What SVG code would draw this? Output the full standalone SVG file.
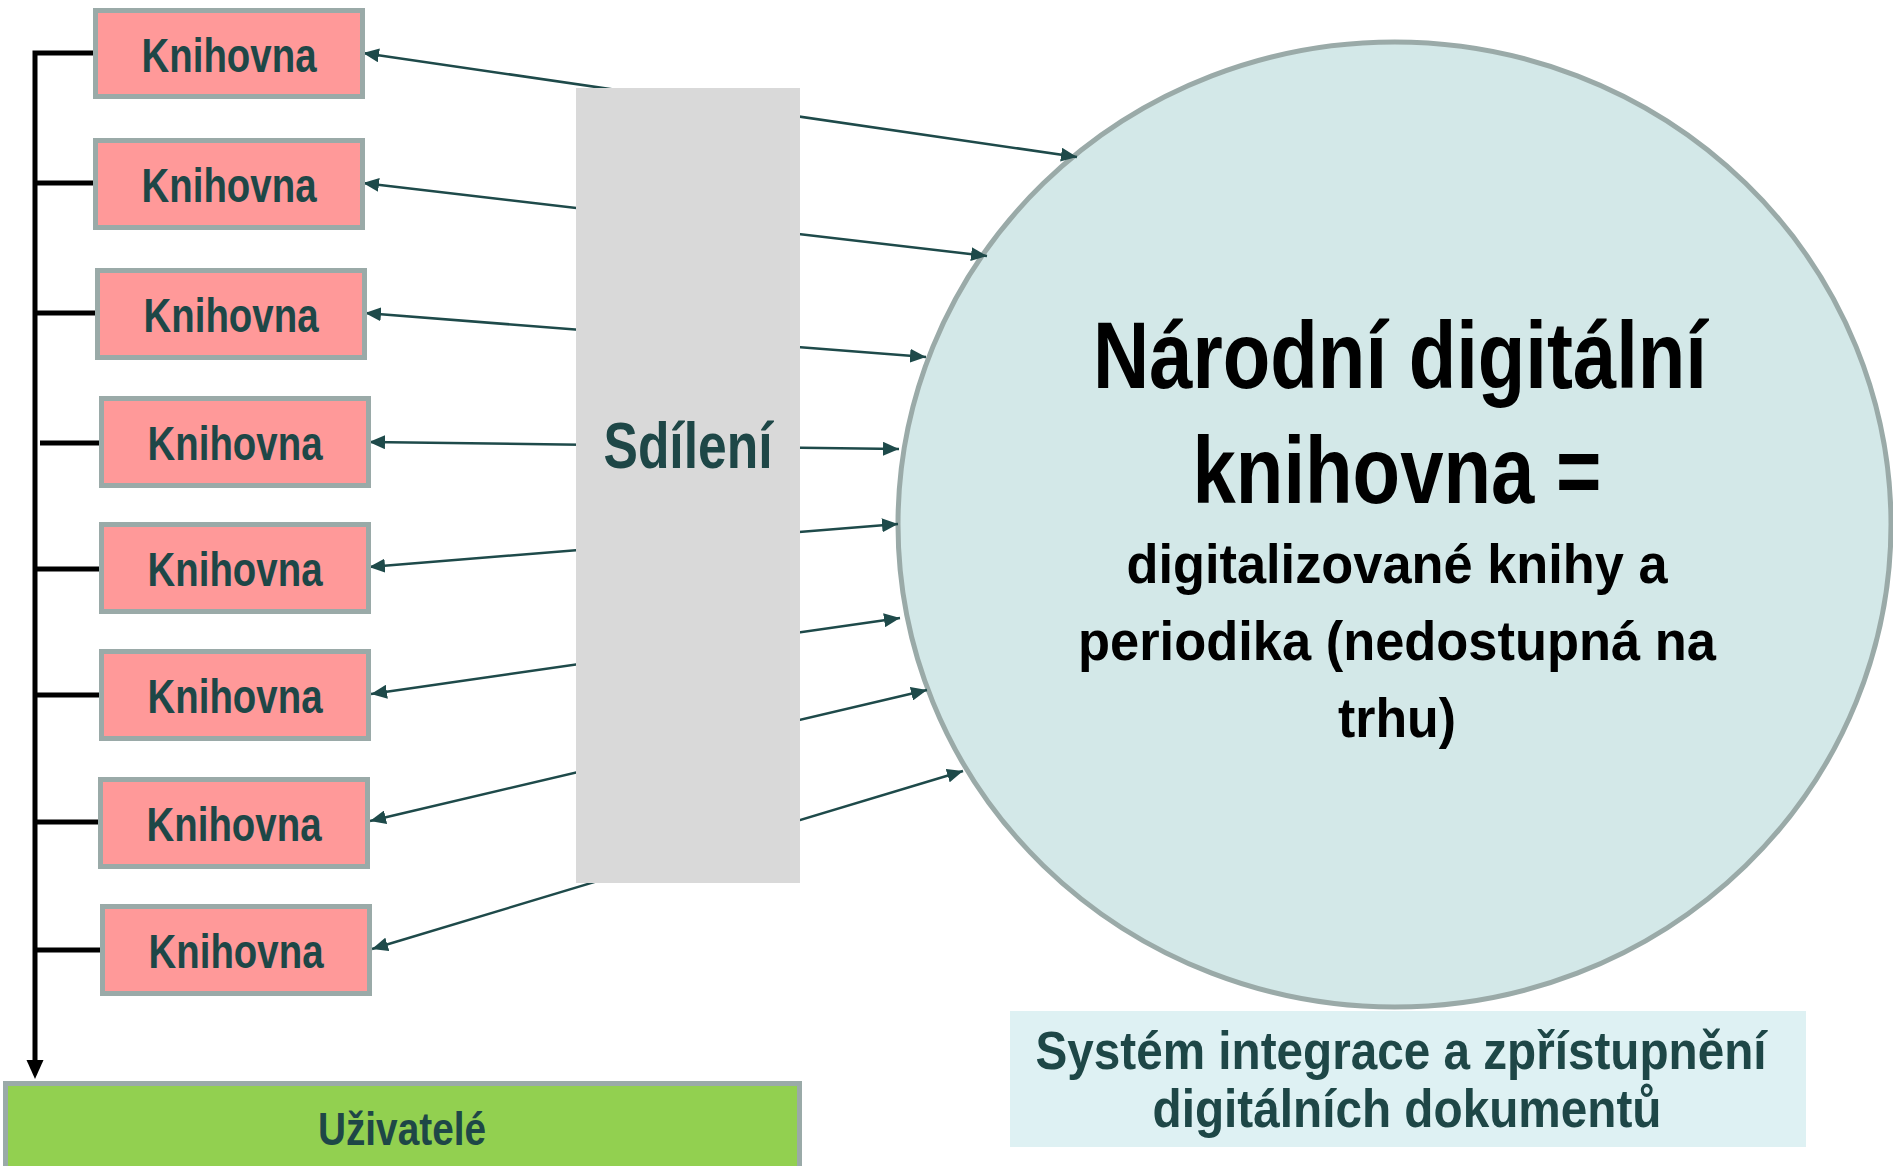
<svg xmlns="http://www.w3.org/2000/svg" width="1893" height="1166" viewBox="0 0 1893 1166">
  <style>
    .lib rect { fill: #FF9999; stroke: #9AAAA8; stroke-width: 5; }
    .lib text, .lbl { font-family: "Liberation Sans Narrow", "Liberation Sans", Arial, sans-serif; font-weight: bold; fill: #1E4747; text-anchor: middle; }
    .lib text { font-size: 48px; }
    .conn { stroke: #1E4A4A; stroke-width: 2.5; fill: none; marker-start: url(#ah); marker-end: url(#ah); }
    .tree { stroke: #000; stroke-width: 5; fill: none; }
    .ttl { font-family: "Liberation Sans Narrow", "Liberation Sans", Arial, sans-serif; font-weight: bold; fill: #000; text-anchor: middle; }
  </style>
  <defs>
    <marker id="ah" viewBox="0 0 16 14" refX="16" refY="7" markerWidth="16" markerHeight="14" markerUnits="userSpaceOnUse" orient="auto-start-reverse">
      <path d="M0,0 L16,7 L0,14 z" fill="#1E4A4A"/>
    </marker>
  </defs>
  <rect width="1893" height="1166" fill="#fff"/>

  <g id="ndk">
    <ellipse cx="1394.5" cy="524.5" rx="496.5" ry="482.5" fill="#D3E8E8" stroke="#9AAAA8" stroke-width="5"/>
    <text class="ttl" x="1400" y="388" font-size="95" textLength="614" lengthAdjust="spacingAndGlyphs">Národní digitální</text>
    <text class="ttl" x="1397" y="503" font-size="95" textLength="409" lengthAdjust="spacingAndGlyphs">knihovna =</text>
    <text class="ttl" x="1397" y="583" font-size="55" textLength="541" lengthAdjust="spacingAndGlyphs">digitalizované knihy a</text>
    <text class="ttl" x="1397" y="660" font-size="55" textLength="638" lengthAdjust="spacingAndGlyphs">periodika (nedostupná na</text>
    <text class="ttl" x="1397" y="737" font-size="55" textLength="118" lengthAdjust="spacingAndGlyphs">trhu)</text>
  </g>

  <g id="connectors">
    <line class="conn" x1="1077" y1="157" x2="363" y2="53"/>
    <line class="conn" x1="987" y1="256" x2="363" y2="183"/>
    <line class="conn" x1="926" y1="357" x2="365" y2="313"/>
    <line class="conn" x1="899" y1="449" x2="369" y2="442"/>
    <line class="conn" x1="898" y1="524" x2="369" y2="567"/>
    <line class="conn" x1="900" y1="618" x2="371" y2="694"/>
    <line class="conn" x1="927" y1="690" x2="370" y2="821"/>
    <line class="conn" x1="963" y1="771" x2="372" y2="949"/>
    <g id="tree">
      <path class="tree" d="M95,53 H35 V1062"/>
      <polygon points="26.5,1060 43.5,1060 35,1079" fill="#000"/>
      <line class="tree" x1="35" y1="183" x2="95" y2="183"/>
      <line class="tree" x1="35" y1="313" x2="97" y2="313"/>
      <line class="tree" x1="40" y1="443" x2="100" y2="443"/>
      <line class="tree" x1="35" y1="569" x2="100" y2="569"/>
      <line class="tree" x1="35" y1="695" x2="100" y2="695"/>
      <line class="tree" x1="35" y1="822" x2="99" y2="822"/>
      <line class="tree" x1="35" y1="950" x2="101" y2="950"/>
    </g>
  </g>

  <g id="sdileni">
    <rect x="576" y="88" width="224" height="795" fill="#D9D9D9"/>
    <text class="lbl" x="688" y="468" font-size="64" textLength="169" lengthAdjust="spacingAndGlyphs">Sdílení</text>
  </g>

  <g id="knihovna1" class="lib"><rect x="95.5" y="10.5" width="267" height="86"/><text x="229" y="72" textLength="175" lengthAdjust="spacingAndGlyphs">Knihovna</text></g>
  <g id="knihovna2" class="lib"><rect x="95.5" y="140.5" width="267" height="87"/><text x="229" y="202" textLength="175" lengthAdjust="spacingAndGlyphs">Knihovna</text></g>
  <g id="knihovna3" class="lib"><rect x="97.5" y="270.5" width="267" height="87"/><text x="231" y="332" textLength="175" lengthAdjust="spacingAndGlyphs">Knihovna</text></g>
  <g id="knihovna4" class="lib"><rect x="101.5" y="398.5" width="267" height="87"/><text x="235" y="460" textLength="175" lengthAdjust="spacingAndGlyphs">Knihovna</text></g>
  <g id="knihovna5" class="lib"><rect x="101.5" y="524.5" width="267" height="87"/><text x="235" y="586" textLength="175" lengthAdjust="spacingAndGlyphs">Knihovna</text></g>
  <g id="knihovna6" class="lib"><rect x="101.5" y="651.5" width="267" height="87"/><text x="235" y="713" textLength="175" lengthAdjust="spacingAndGlyphs">Knihovna</text></g>
  <g id="knihovna7" class="lib"><rect x="100.5" y="779.5" width="267" height="87"/><text x="234" y="841" textLength="175" lengthAdjust="spacingAndGlyphs">Knihovna</text></g>
  <g id="knihovna8" class="lib"><rect x="102.5" y="906.5" width="267" height="87"/><text x="236" y="968" textLength="175" lengthAdjust="spacingAndGlyphs">Knihovna</text></g>

  <g id="uzivatele">
    <rect x="5.5" y="1083.5" width="794" height="100" fill="#92D050" stroke="#9AAAA8" stroke-width="5"/>
    <text class="lbl" x="402" y="1145" font-size="46" textLength="168" lengthAdjust="spacingAndGlyphs">Uživatelé</text>
  </g>

  <g id="system">
    <rect x="1010" y="1011" width="796" height="136" fill="#DEF1F3"/>
    <text class="lbl" x="1401" y="1069" font-size="54" textLength="731" lengthAdjust="spacingAndGlyphs">Systém integrace a zpřístupnění</text>
    <text class="lbl" x="1407" y="1127" font-size="54" textLength="509" lengthAdjust="spacingAndGlyphs">digitálních dokumentů</text>
  </g>
</svg>
